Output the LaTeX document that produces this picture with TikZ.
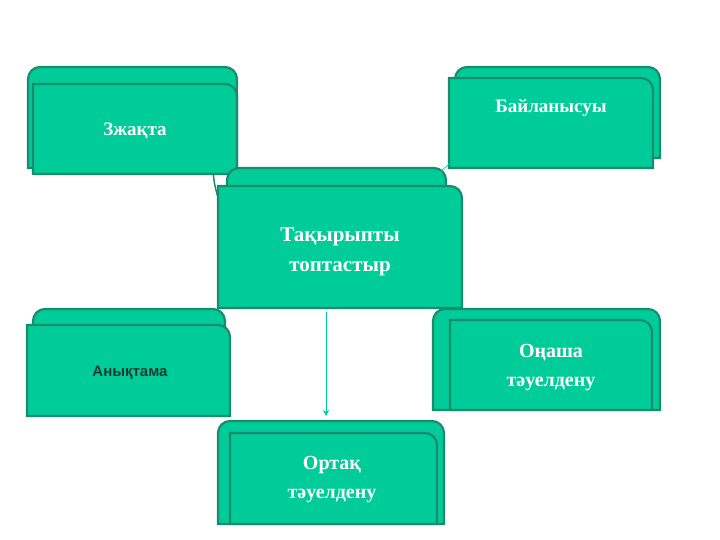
\documentclass[tikz,border=0pt]{standalone}
\usepackage{fontspec}
\setmainfont{Liberation Serif}
\newfontfamily\labelsans{Liberation Sans}
\usetikzlibrary{arrows.meta}
\definecolor{boxfill}{RGB}{0,204,153}
\definecolor{boxedge}{RGB}{26,140,110}
\definecolor{darklabel}{RGB}{20,60,50}

% back shape: both top corners rounded; front shape: top-right rounded
\newcommand{\backtab}[4]{\draw[tabline] (#1,#4) [rounded corners=12] -- (#1,#2) -- (#3,#2) [sharp corners] -- (#3,#4) -- cycle;}
\newcommand{\fronttab}[4]{\draw[tabline] (#1,#4) -- (#1,#2) [rounded corners=12] -- (#3,#2) [sharp corners] -- (#3,#4) -- cycle;}

\begin{document}
\begin{tikzpicture}[x=1pt,y=-1pt,
  tabline/.style={fill=boxfill,draw=boxedge,line width=2.2pt},
  tabtext/.style={text=white,font=\bfseries\fontsize{19}{23}\selectfont,align=center},
  link/.style={draw=boxfill,line width=0.6pt}]
\useasboundingbox (0,0) rectangle (720,540);

%Shape: left arc behind centre
\draw[boxedge,line width=1.5pt] (219,200) arc[start angle=160,end angle=200,radius=100];

%Shape: tabs
\backtab{28}{67}{237}{168}
\fronttab{33}{84}{237}{174}
\backtab{455}{67}{660}{158}
\fronttab{449}{78}{653}{168}
\backtab{227}{168}{446}{300}
\fronttab{218}{186}{462}{308}
\backtab{33}{309}{225}{406}
\fronttab{27}{325}{230}{416}
\backtab{433}{309}{660}{410}
\fronttab{450}{320}{652}{410}
\backtab{218}{421}{444}{524}
\fronttab{230}{433}{437}{524}

% Text Node
\node[tabtext] (zhakta) at (135,131) {Зжақта};
\node[tabtext] (bailanys) at (551,108) {Байланысуы};
\node[tabtext,font=\bfseries\fontsize{21}{30}\selectfont] (topta) at (340,252) {Тақырыпты\\топтастыр};
\node[text=darklabel,font=\labelsans\bfseries\fontsize{15}{18}\selectfont] (anyk) at (130,373) {Анықтама};
\node[tabtext,font=\bfseries\fontsize{20}{29}\selectfont] (onasha) at (551,368) {Оңаша\\тәуелдену};
\node[tabtext,font=\bfseries\fontsize{20}{29}\selectfont] (ortak) at (332,480) {Ортақ\\тәуелдену};

%Connectors
\coordinate (ctop) at (440,172);
\coordinate (btab) at (455,159);
\coordinate (cbot) at (326,312);
\coordinate (otop) at (326,416);
\draw[link] (ctop) -- (btab);
\draw[link,-{Stealth[length=6pt,width=6pt]}] (cbot) -- (otop);
\end{tikzpicture}
\end{document}
